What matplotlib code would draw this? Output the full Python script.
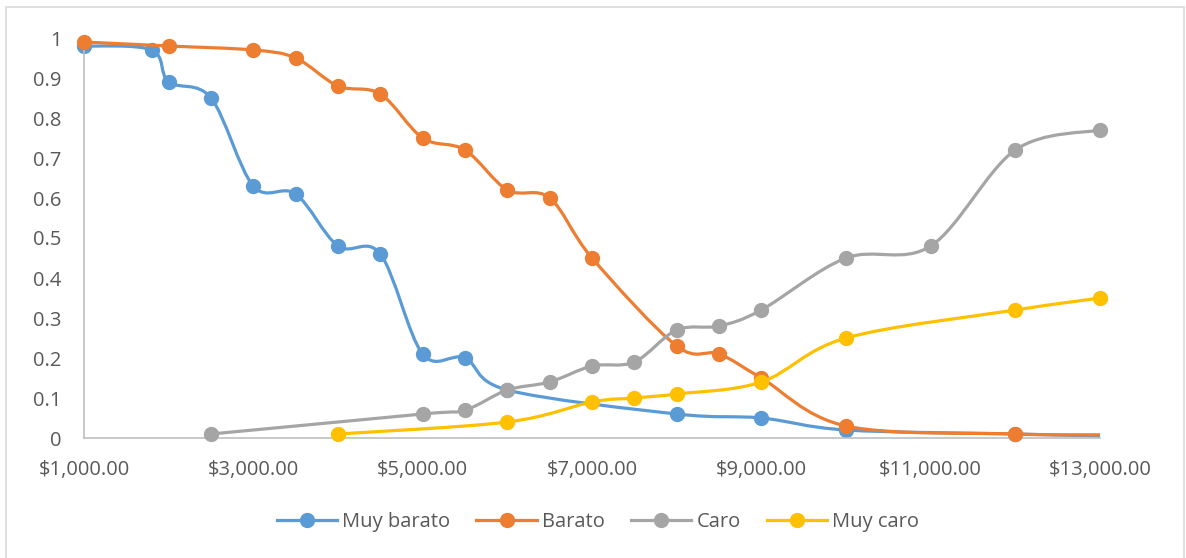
import matplotlib
matplotlib.use('Agg')
import numpy as np
import matplotlib.pyplot as plt
from matplotlib.path import Path
from matplotlib.patches import PathPatch, Rectangle
from matplotlib.lines import Line2D
from matplotlib.ticker import FuncFormatter, FixedLocator, MultipleLocator

plt.rcParams['font.family'] = ['Open Sans', 'DejaVu Sans']

# values
muy_barato_x = [1000, 1800, 2000, 2500, 3000, 3500, 4000, 4500, 5000, 5500, 6000, 8000, 9000, 10000, 12000, 13000]
muy_barato_y = [0.98, 0.97, 0.89, 0.85, 0.63, 0.61, 0.48, 0.46, 0.21, 0.20, 0.12, 0.06, 0.05, 0.02, 0.01, 0.005]
barato_x = [1000, 2000, 3000, 3500, 4000, 4500, 5000, 5500, 6000, 6500, 7000, 8000, 8500, 9000, 10000, 12000, 13000]
barato_y = [0.99, 0.98, 0.97, 0.95, 0.88, 0.86, 0.75, 0.72, 0.62, 0.60, 0.45, 0.23, 0.21, 0.15, 0.03, 0.01, 0.008]
caro_x = [2500, 5000, 5500, 6000, 6500, 7000, 7500, 8000, 8500, 9000, 10000, 11000, 12000, 13000]
caro_y = [0.01, 0.06, 0.07, 0.12, 0.14, 0.18, 0.19, 0.27, 0.28, 0.32, 0.45, 0.48, 0.72, 0.77]
muy_caro_x = [4000, 6000, 7000, 7500, 8000, 9000, 10000, 12000, 13000]
muy_caro_y = [0.01, 0.04, 0.09, 0.10, 0.11, 0.14, 0.25, 0.32, 0.35]

x_ticks = [1000, 3000, 5000, 7000, 9000, 11000, 13000]

series = [
    ('Muy barato', muy_barato_x, muy_barato_y, '#5B9BD5', 2),
    ('Barato', barato_x, barato_y, '#ED7D31', 1),
    ('Caro', caro_x, caro_y, '#A5A5A5', 0),
    ('Muy caro', muy_caro_x, muy_caro_y, '#FFC000', 0),
]


def smooth_path(x, y, t=1/6):
    # Excel-style smoothed line: cubic Bezier segments through the points
    p = np.column_stack([x, y]).astype(float)
    n = len(p)
    verts = [p[0]]
    codes = [Path.MOVETO]
    for i in range(n - 1):
        a = p[i - 1] if i > 0 else p[i]
        d = p[i + 2] if i + 2 < n else p[i + 1]
        c1 = p[i] + (p[i + 1] - a) * t
        c2 = p[i + 1] - (d - p[i]) * t
        verts += [c1, c2, p[i + 1]]
        codes += [Path.CURVE4] * 3
    return Path(verts, codes)


fig = plt.figure(figsize=(11.86, 5.58), dpi=100)
ax = fig.add_axes([84 / 1186, 120 / 558, 1016 / 1186, 400 / 558])

handles = []
for k, (name, x, y, c, skip_end) in enumerate(series):
    z = 2 + k
    ax.add_patch(PathPatch(smooth_path(x, y), fill=False, edgecolor=c, lw=2.3,
                           capstyle='round', joinstyle='round', zorder=z))
    n_mark = len(x) - (1 if skip_end else 0)
    ax.plot(x[:n_mark], y[:n_mark], linestyle='none', marker='o', ms=10,
            color=c, zorder=z + 0.5, clip_on=False)
    handles.append(Line2D([], [], color=c, lw=2.3, marker='o', ms=10))

ax.set_xlim(1000, 13000)
ax.set_ylim(0, 1)
ax.xaxis.set_major_locator(FixedLocator(x_ticks))
ax.yaxis.set_major_locator(MultipleLocator(0.1))
ax.xaxis.set_major_formatter(FuncFormatter(lambda v, p: f'${v:,.2f}'))
ax.yaxis.set_major_formatter(FuncFormatter(lambda v, p: '0' if v < 1e-9 else ('1' if abs(v - 1) < 1e-9 else f'{v:.1f}')))
ax.tick_params(axis='both', length=0, labelsize=14.5, labelcolor='#595959')
ax.tick_params(axis='y', pad=16)
ax.tick_params(axis='x', pad=16)
for s in ['top', 'right']:
    ax.spines[s].set_visible(False)
for s in ['left', 'bottom']:
    ax.spines[s].set_color('#BFBFBF')
    ax.spines[s].set_linewidth(1.2)

leg = fig.legend(handles, [s[0] for s in series], loc='center', ncol=4,
                 bbox_to_anchor=(598 / 1186, 1 - 522 / 558), frameon=False,
                 fontsize=14.5, handlelength=3.0, columnspacing=1.3, handletextpad=0.25)
for t in leg.get_texts():
    t.set_color('#595959')

fig.patches.append(Rectangle((6 / 1186, -0.05), 1178 / 1186, 1.05 - 7 / 558,
                             transform=fig.transFigure, fill=False,
                             edgecolor='#D9D9D9', lw=1.2))

fig.savefig('out.png', dpi=100)
